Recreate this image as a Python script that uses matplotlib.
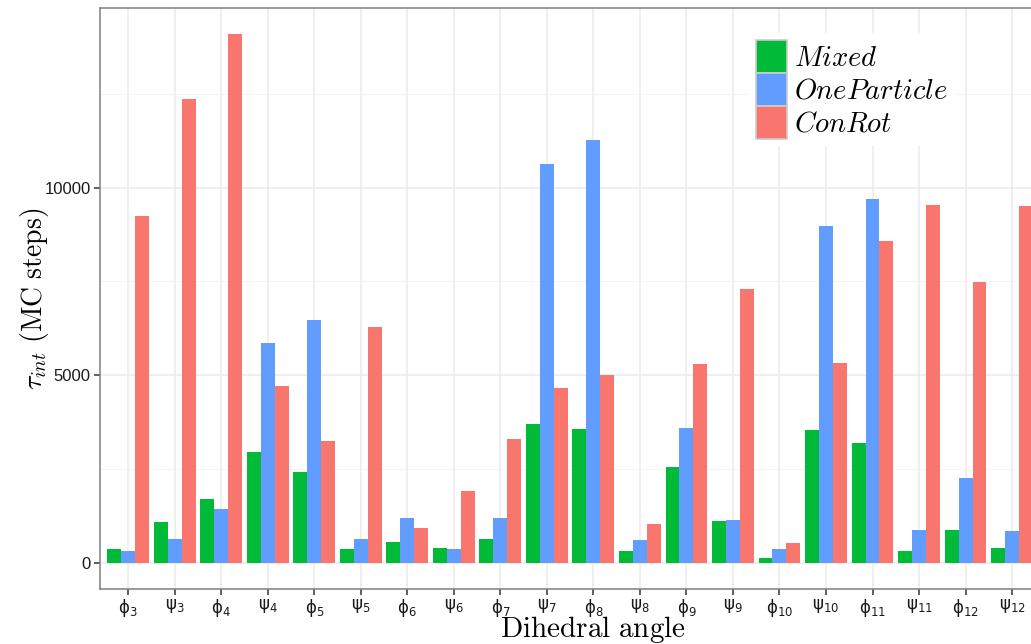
import numpy as np
import matplotlib
matplotlib.use('Agg')
import matplotlib.pyplot as plt
from matplotlib.patches import Patch

# data
angles = ['ϕ_{3}', 'ψ_{3}', 'ϕ_{4}', 'ψ_{4}', 'ϕ_{5}', 'ψ_{5}', 'ϕ_{6}', 'ψ_{6}',
          'ϕ_{7}', 'ψ_{7}', 'ϕ_{8}', 'ψ_{8}', 'ϕ_{9}', 'ψ_{9}', 'ϕ_{10}', 'ψ_{10}',
          'ϕ_{11}', 'ψ_{11}', 'ϕ_{12}', 'ψ_{12}']
mixed = [374, 1070, 1710, 2940, 2410, 370, 560, 400, 640, 3690,
         3560, 320, 2540, 1100, 130, 3530, 3180, 320, 880, 400]
one_particle = [320, 640, 1440, 5860, 6470, 640, 1200, 370, 1200, 10640,
                11280, 590, 3580, 1150, 370, 8980, 9710, 860, 2270, 830]
conrot = [9250, 12380, 14090, 4700, 3240, 6280, 910, 1900, 3290, 4650,
          5000, 1040, 5290, 7300, 510, 5320, 8580, 9550, 7490, 9520]

series = [('Mixed', mixed, '#00BA38'),
          ('OneParticle', one_particle, '#619CFF'),
          ('ConRot', conrot, '#F8766D')]

fig = plt.figure(figsize=(10.31, 6.44), dpi=100)
ax = fig.add_axes([0.0973, 0.0854, 0.9114, 0.9022])

x = np.arange(1, len(angles) + 1)
w = 0.3
for k, (name, vals, col) in enumerate(series):
    ax.bar(x + (k - 1) * w, vals, width=w, color=col, edgecolor='none', zorder=3)

ax.set_xlim(0.4, len(angles) + 0.6)
ax.set_ylim(-704, 14795)
ax.set_xticks(x)
ax.set_xticklabels([r'$\mathregular{' + a + '}$' for a in angles],
                   fontfamily='DejaVu Sans', fontsize=12, color='#1a1a1a')
ax.set_yticks([0, 5000, 10000])
ax.set_yticklabels(['0', '5000', '10000'], fontfamily='Liberation Sans',
                   fontsize=12, color='#1a1a1a')
ax.set_yticks([2500, 7500, 12500], minor=True)
ax.tick_params(axis='both', which='major', length=4, width=1.1, color='#333333', pad=3)
ax.tick_params(axis='x', which='major', pad=2)
ax.tick_params(axis='y', which='minor', length=0)

ax.grid(True, which='major', color='#EBEBEB', linewidth=1.1, zorder=0)
ax.grid(True, which='minor', axis='y', color='#F2F2F2', linewidth=0.6, zorder=0)
ax.set_axisbelow(True)
for s in ax.spines.values():
    s.set_color('#7F7F7F')
    s.set_linewidth(1.1)

ax.set_xlabel(r'$\mathrm{Dihedral\ angle}$', fontsize=21, math_fontfamily='cm')
ax.xaxis.set_label_coords(0.5245, -0.043)
ax.set_ylabel(r'$\tau_{int}\ (\mathrm{MC\ steps})$', fontsize=20, math_fontfamily='cm')
ax.yaxis.set_label_coords(-0.053, 0.5)

handles = [Patch(facecolor=c, edgecolor='#CCCCCC', linewidth=1.2) for _, _, c in series]
labels = [r'$' + n + '$' for n, _, _ in series]
leg = fig.legend(handles, labels, loc='upper left',
                 bbox_to_anchor=(749 / 1031, 1 - 33 / 644),
                 frameon=True, facecolor='white', edgecolor='none', framealpha=1,
                 fancybox=False, borderpad=0.25, borderaxespad=0,
                 handlelength=1.1, handleheight=1.4, handletextpad=0.22,
                 labelspacing=0.0, prop={'size': 20.5})
for t in leg.get_texts():
    t.set_math_fontfamily('cm')

fig.savefig('out.png', dpi=100)
